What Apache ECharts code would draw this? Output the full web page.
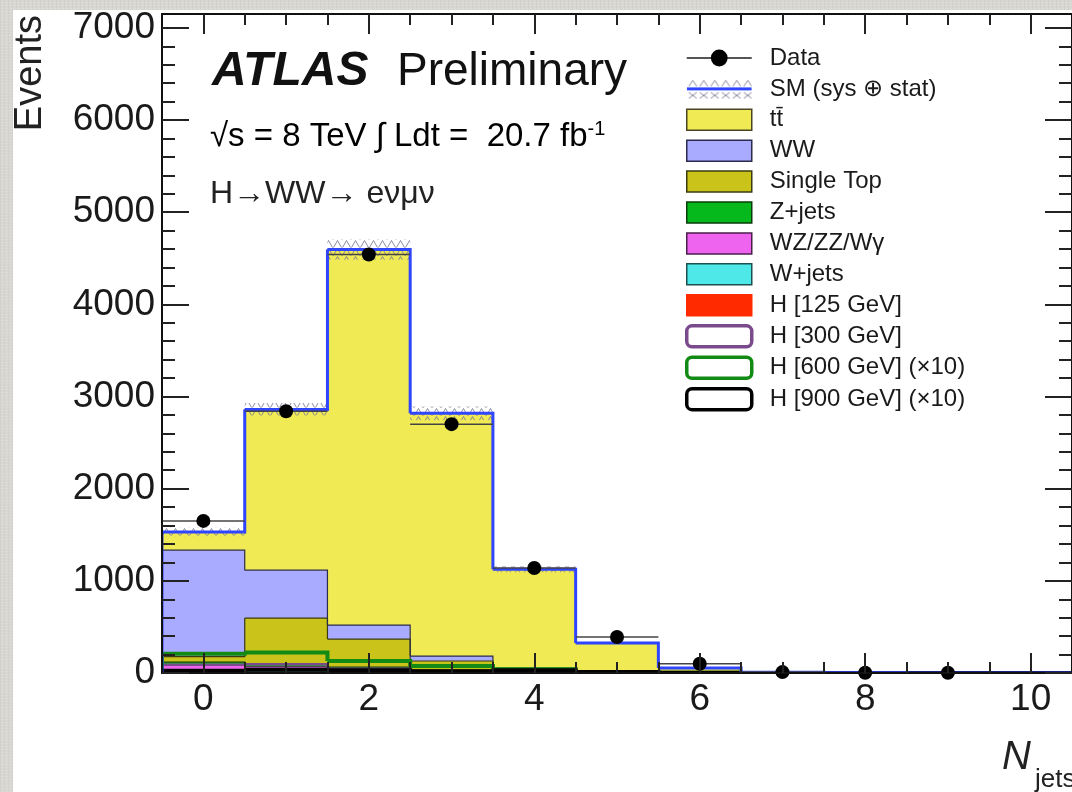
<!DOCTYPE html>
<html>
<head>
<meta charset="utf-8">
<title>Njets distribution</title>
<script src="https://cdn.jsdelivr.net/npm/echarts@6/dist/echarts.min.js"></script>
<style>
  html, body { margin: 0; padding: 0; width: 1072px; height: 792px; overflow: hidden; }
  body {
    background-color: #d9d7d2;
    background-image:
      repeating-linear-gradient(0deg, rgba(255,255,255,0.10) 0 1px, transparent 1px 3px),
      repeating-linear-gradient(90deg, rgba(0,0,0,0.035) 0 1px, transparent 1px 4px);
  }
  #panel { position: absolute; left: 13px; top: 10px; width: 1059px; height: 782px; background: #fff; }
  #chart { position: absolute; left: 0; top: 0; width: 1072px; height: 792px; }
</style>
</head>
<body>
<div id="panel"></div>
<div id="chart"></div>
<script>
// Jet multiplicity bins
const nJets = [0, 1, 2, 3, 4, 5, 6, 7, 8, 9, 10];

// Observed events (no entry in the last bin)
const dataEvents = [1650, 2840, 4540, 2700, 1140, 390, 100, 10, 3, 2, null];

// Background expectations, listed from the bottom of the stack upwards
const h125      = [12, 8, 6, 3, 1, 0.3, 0, 0, 0, 0, 0];
const wJets     = [25, 15, 8, 4, 2, 0.5, 0.1, 0, 0, 0, 0];
const wzZZWg    = [55, 45, 30, 15, 6, 2, 0.5, 0, 0, 0, 0];
const zJets     = [25, 30, 20, 10, 5, 1, 0.3, 0, 0, 0, 0];
const singleTop = [60, 498, 304, 98, 28, 7, 1.5, 0.3, 0, 0, 0];
const ww        = [1156, 520, 152, 54, 12, 4, 1, 0.2, 0, 0, 0];
const ttbar     = [197, 1744, 4074, 2633, 1073, 310, 51, 8, 2, 0.7, 0.2];

// Total uncertainty on the SM prediction (sys ⊕ stat)
const smUncert = [45, 70, 110, 75, 35, 12, 4, 1.5, 0.5, 0.2, 0.1];

// Heavy Higgs hypotheses, drawn as open histograms
const h300    = [90, 95, 45, 20, 8, 2, 0.5, 0, 0, 0, 0];
const h600x10 = [210, 222, 130, 75, 42, 12, 3, 1, 0, 0, 0];
const h900x10 = [25, 35, 30, 20, 30, 10, 3, 1, 0.3, 0, 0];

// Axis tick positions
const xMajorTicks = [0, 2, 4, 6, 8, 10];
const yMajorTicks = [0, 1000, 2000, 3000, 4000, 5000, 6000, 7000];
const xMinorTicks = [];
for (let v = 0; v <= 10.01; v += 0.5) xMinorTicks.push(+v.toFixed(2));
const yMinorTicks = [];
for (let v = 0; v <= 7000; v += 200) yMinorTicks.push(v);

const FONT = '"Liberation Sans", Arial, Helvetica, "DejaVu Sans", sans-serif';

const stackDefs = [
  { name: 'H [125 GeV]', values: h125,      fill: '#ff2a00', edge: '#a01800' },
  { name: 'W+jets',      values: wJets,     fill: '#4fe8e8', edge: '#1c5050' },
  { name: 'WZ/ZZ/Wγ',    values: wzZZWg,    fill: '#ee64ee', edge: '#4a1f4a' },
  { name: 'Z+jets',      values: zJets,     fill: '#05b91c', edge: '#0a3d0a' },
  { name: 'Single Top',  values: singleTop, fill: '#c9c31a', edge: '#3b3a10' },
  { name: 'WW',          values: ww,        fill: '#a8abff', edge: '#2b2b4d' },
  { name: 'tt̄',          values: ttbar,     fill: '#f0ea55', edge: '#4a4522' }
];

// Hatch tile for the uncertainty band
function makeHatch() {
  const cv = document.createElement('canvas');
  cv.width = 9; cv.height = 8;
  const g = cv.getContext('2d');
  g.strokeStyle = 'rgba(120,120,150,0.85)';
  g.lineWidth = 1;
  g.beginPath(); g.moveTo(0.5, 7.5); g.lineTo(4.5, 0.5); g.lineTo(8.5, 7.5); g.stroke();
  return cv;
}

// Legend swatch for the SM prediction: blue line inside a hatched band
function makeSmIcon() {
  const cv = document.createElement('canvas');
  cv.width = 65; cv.height = 21;
  const g = cv.getContext('2d');
  g.strokeStyle = 'rgba(125,125,150,0.9)';
  g.lineWidth = 1;
  for (let x = 2; x < 62; x += 11) {
    g.beginPath(); g.moveTo(x, 8); g.lineTo(x + 4, 2); g.lineTo(x + 8, 8); g.stroke();
    g.beginPath(); g.moveTo(x, 14); g.lineTo(x + 8, 20); g.moveTo(x + 8, 14); g.lineTo(x, 20); g.stroke();
  }
  g.fillStyle = '#2f45ff';
  g.fillRect(0, 9, 65, 3);
  return cv;
}

// One stacked component: filled bins plus the outline of its upper edge
function stackRender(fill, edge) {
  return function (params, api) {
    const c = api.value(0), lo = api.value(1), hi = api.value(2), nextHi = api.value(3);
    const pl = api.coord([c - 0.5, lo]);
    const ph = api.coord([c + 0.5, hi]);
    const pn = api.coord([c + 0.5, nextHi]);
    const children = [];
    if (pl[1] - ph[1] > 0.05) {
      children.push({
        type: 'rect', z2: 0,
        shape: { x: pl[0] - 0.4, y: ph[1], width: ph[0] - pl[0] + 0.8, height: pl[1] - ph[1] },
        style: { fill: fill }
      });
    }
    children.push({
      type: 'polyline', z2: 10,
      shape: { points: [[pl[0], ph[1]], [ph[0], ph[1]], [ph[0], pn[1]]] },
      style: { stroke: edge, lineWidth: 1.2, fill: null }
    });
    return { type: 'group', children: children };
  };
}

// Open step histogram
function stepRender(stroke, width) {
  return function (params, api) {
    const c = api.value(0), v = api.value(1), nv = api.value(2);
    const a = api.coord([c - 0.5, v]);
    const b = api.coord([c + 0.5, v]);
    const n = api.coord([c + 0.5, nv]);
    const pts = [];
    if (params.dataIndex === 0) pts.push(api.coord([c - 0.5, 0]));
    pts.push(a, b, n);
    return {
      type: 'polyline', z2: 20,
      shape: { points: pts },
      style: { stroke: stroke, lineWidth: width, fill: null, lineJoin: 'miter' }
    };
  };
}

const series = [];
let base = nJets.map(() => 0);
stackDefs.forEach(def => {
  const lower = base.slice();
  const upper = lower.map((b, i) => b + def.values[i]);
  const items = nJets.map((c, i) => [c, lower[i], upper[i], i + 1 < nJets.length ? upper[i + 1] : 0]);
  series.push({
    type: 'custom', name: def.name, z: 2, clip: true, silent: true,
    encode: { x: 0, y: [1, 2] },
    itemStyle: { color: def.fill, borderColor: def.edge, borderWidth: 1.5 },
    renderItem: stackRender(def.fill, def.edge),
    data: items
  });
  base = upper;
});
const smTotal = base;

function stepItems(vals) {
  return nJets.map((c, i) => [c, vals[i], i + 1 < nJets.length ? vals[i + 1] : 0]);
}

const openHists = [
  { name: 'H [300 GeV]',        values: h300,    stroke: '#7b4a8c', width: 2.5 },
  { name: 'H [600 GeV] (×10)', values: h600x10, stroke: '#138a14', width: 4 },
  { name: 'H [900 GeV] (×10)', values: h900x10, stroke: '#000000', width: 4 }
];
openHists.forEach(h => {
  series.push({
    type: 'custom', name: h.name, z: 3, clip: true, silent: true,
    encode: { x: 0, y: 1 },
    itemStyle: { color: '#fff', borderColor: h.stroke, borderWidth: 3 },
    renderItem: stepRender(h.stroke, h.width),
    data: stepItems(h.values)
  });
});

// SM total with its uncertainty band
const hatch = makeHatch();
series.push({
  type: 'custom', name: 'SM (sys ⊕ stat)', z: 4, clip: true, silent: true,
  encode: { x: 0, y: [1, 2] },
  itemStyle: { color: '#2f45ff' },
  renderItem: function (params, api) {
    const c = api.value(0), lo = api.value(1), hi = api.value(2), tot = api.value(3), nextTot = api.value(4);
    const pl = api.coord([c - 0.5, lo]);
    const ph = api.coord([c + 0.5, hi]);
    const t = api.coord([c - 0.5, tot]);
    const tr = api.coord([c + 0.5, tot]);
    const n = api.coord([c + 0.5, nextTot]);
    const pts = [];
    if (params.dataIndex === 0) pts.push(api.coord([c - 0.5, 0]));
    pts.push(t, tr, n);
    return {
      type: 'group',
      children: [
        { type: 'rect', z2: 0,
          shape: { x: pl[0], y: ph[1], width: ph[0] - pl[0], height: Math.max(pl[1] - ph[1], 0) },
          style: { fill: { image: hatch, repeat: 'repeat' } } },
        { type: 'polyline', z2: 5, shape: { points: pts },
          style: { stroke: '#2f45ff', lineWidth: 3, fill: null, lineJoin: 'miter' } }
      ]
    };
  },
  data: nJets.map((c, i) => [c, smTotal[i] - smUncert[i], smTotal[i] + smUncert[i], smTotal[i],
                            i + 1 < nJets.length ? smTotal[i + 1] : 0])
});

// Observed data: bin-width bars and Poisson error bars
const dataPoints = [];
nJets.forEach((c, i) => { if (dataEvents[i] != null) dataPoints.push([c, dataEvents[i]]); });
series.push({
  type: 'custom', name: 'dataErrors', z: 5, clip: true, silent: true,
  encode: { x: 0, y: 1 },
  renderItem: function (params, api) {
    const c = api.value(0), v = api.value(1), e = Math.sqrt(v);
    const a = api.coord([c - 0.5, v]), b = api.coord([c + 0.5, v]);
    const up = api.coord([c, v + e]), dn = api.coord([c, v - e]);
    return {
      type: 'group',
      children: [
        { type: 'line', shape: { x1: a[0], y1: a[1], x2: b[0], y2: b[1] }, style: { stroke: '#444', lineWidth: 1.5 } },
        { type: 'line', shape: { x1: up[0], y1: up[1], x2: dn[0], y2: dn[1] }, style: { stroke: '#111', lineWidth: 1.5 } }
      ]
    };
  },
  data: dataPoints
});
series.push({
  type: 'line', name: 'Data', z: 6, silent: true,
  symbol: 'circle', symbolSize: 14, showSymbol: true,
  itemStyle: { color: '#000' },
  lineStyle: { width: 0, opacity: 0 },
  data: dataPoints
});

const tickLine = { color: '#222', width: 2 };
const axisText = { fontFamily: FONT, fontSize: 37, color: '#1a1a1a' };
const plainNumber = v => String(v);
function xAx(position, ticks, len, withLine, withLabels) {
  return {
    type: 'value', position: position, min: -0.5, max: 10.5, z: 8,
    axisLine: { show: withLine, onZero: false, lineStyle: { color: '#111', width: 2 } },
    axisTick: { show: true, inside: true, length: len, customValues: ticks, lineStyle: tickLine },
    axisLabel: withLabels ? Object.assign({ show: true, customValues: ticks, margin: 8, formatter: plainNumber }, axisText) : { show: false },
    splitLine: { show: false }
  };
}
function yAx(position, ticks, len, withLine, withLabels) {
  return {
    type: 'value', position: position, min: 0, max: 7150, z: 8,
    axisLine: { show: withLine, onZero: false, lineStyle: { color: '#111', width: 2 } },
    axisTick: { show: true, inside: true, length: len, customValues: ticks, lineStyle: tickLine },
    axisLabel: withLabels ? Object.assign({ show: true, customValues: ticks, margin: 7, formatter: plainNumber }, axisText) : { show: false },
    splitLine: { show: false }
  };
}

const legendNames = ['Data', 'SM (sys ⊕ stat)', 'tt̄', 'WW', 'Single Top', 'Z+jets', 'WZ/ZZ/Wγ',
  'W+jets', 'H [125 GeV]', 'H [300 GeV]', 'H [600 GeV] (×10)', 'H [900 GeV] (×10)'];
const legendData = legendNames.map(name => {
  if (name === 'Data') {
    return { name: name, lineStyle: { color: '#555', width: 2, opacity: 1 } };
  }
  if (name === 'SM (sys ⊕ stat)') {
    return { name: name, icon: 'rect', itemStyle: { color: { image: makeSmIcon(), repeat: 'no-repeat' }, borderWidth: 0 } };
  }
  const s = stackDefs.find(d => d.name === name);
  if (s) {
    return { name: name, icon: 'rect',
      itemStyle: { color: s.fill, borderColor: name === 'H [125 GeV]' ? s.fill : s.edge, borderWidth: 1.5 } };
  }
  const h = openHists.find(d => d.name === name);
  return { name: name, icon: 'roundRect', itemStyle: { color: '#fff', borderColor: h.stroke, borderWidth: 3.5 } };
});

const chart = echarts.init(document.getElementById('chart'), null, { renderer: 'canvas' });
chart.setOption({
  animation: false,
  grid: { left: 162, top: 14, width: 913, height: 659, containLabel: false },
  xAxis: [
    xAx('bottom', xMajorTicks, 20, true, true),
    xAx('bottom', xMinorTicks, 11, false, false),
    xAx('top', xMajorTicks, 20, true, false),
    xAx('top', xMinorTicks, 11, false, false)
  ],
  yAxis: [
    yAx('left', yMajorTicks, 27, true, true),
    yAx('left', yMinorTicks, 13, false, false),
    yAx('right', yMajorTicks, 27, true, false),
    yAx('right', yMinorTicks, 13, false, false)
  ],
  legend: {
    orient: 'vertical', left: 680, top: 41,
    itemWidth: 65, itemHeight: 21, itemGap: 6.9,
    selectedMode: false,
    textStyle: { fontFamily: FONT, fontSize: 24, color: '#1a1a1a', lineHeight: 21, padding: [0, 0, 0, 13] },
    data: legendData
  },
  graphic: [
    { type: 'text', x: 212, y: 72,
      style: { text: 'ATLAS', font: 'italic bold 48px ' + FONT, fill: '#111', align: 'left', verticalAlign: 'middle' } },
    { type: 'text', x: 397, y: 72,
      style: { text: 'Preliminary', font: '46px ' + FONT, fill: '#111', align: 'left', verticalAlign: 'middle' } },
    { type: 'text', x: 210, y: 137,
      style: {
        text: '{m|√s = 8 TeV ∫ Ldt =  20.7 fb}{s|-1}',
        align: 'left', verticalAlign: 'middle',
        rich: {
          m: { fontFamily: FONT, fontSize: 33, color: '#222', lineHeight: 36, verticalAlign: 'middle' },
          s: { fontFamily: FONT, fontSize: 20, color: '#222', lineHeight: 20, verticalAlign: 'top' }
        }
      } },
    { type: 'text', x: 210, y: 194,
      style: { text: 'H→WW→ eνμν', font: '32px ' + FONT, fill: '#222', align: 'left', verticalAlign: 'middle' } },
    { type: 'text', x: 31, y: 15, rotation: Math.PI / 2,
      style: { text: 'Events', font: '38px ' + FONT, fill: '#222', align: 'right', verticalAlign: 'middle' } },
    { type: 'text', x: 1002, y: 758,
      style: { text: 'N', font: 'italic 40px ' + FONT, fill: '#222', align: 'left', verticalAlign: 'middle' } },
    { type: 'text', x: 1035, y: 780,
      style: { text: 'jets', font: '26px ' + FONT, fill: '#222', align: 'left', verticalAlign: 'middle' } }
  ],
  series: series
});
</script>
</body>
</html>
